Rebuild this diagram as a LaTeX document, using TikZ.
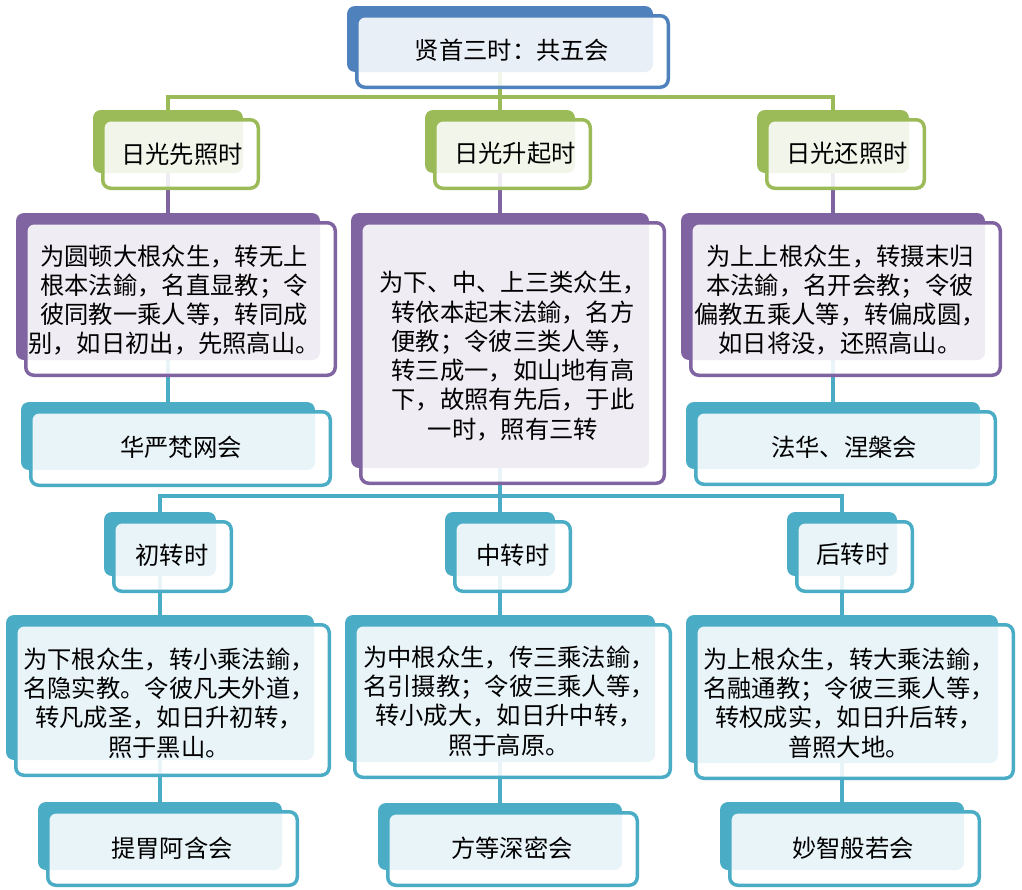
\documentclass[tikz,border=0pt]{standalone}
\usepackage{fontspec}
\newfontfamily\cjk{Noto Sans CJK SC}
\usetikzlibrary{calc}
\definecolor{cblue}{HTML}{4F81BD}
\definecolor{cgreen}{HTML}{9BBB59}
\definecolor{cpurple}{HTML}{8064A2}
\definecolor{cteal}{HTML}{4BACC6}
\pgfdeclarelayer{bg}
\pgfsetlayers{bg,main}
\tikzset{
  backbox/.style={rectangle, rounded corners=8pt, fill=#1, draw=none, inner sep=0pt, outer sep=0pt},
  frontbox/.style={rectangle, rounded corners=8pt, draw=#1, line width=3.5pt, fill=white, fill opacity=0.88, inner sep=0pt},
  txt/.style={font=\cjk\fontsize{24.3}{29.3}\selectfont, align=center, inner sep=0pt, text=black},
  link/.style={line width=4pt, draw=#1},
}
% name, colour, x1, y1, x2, y2 of the back box
\newcommand\boxpair[6]{%
  \node[backbox=#2, minimum width={(#5-#3)*1pt}, minimum height={(#6-#4)*1pt}] (#1) at ({(#3+#5)/2},{(#4+#6)/2}) {};
  \node[frontbox=#2, minimum width={(#5-#3+5.5)*1pt}, minimum height={(#6-#4+5.5)*1pt}] (#1f) at ({(#3+#5)/2+12.5},{(#4+#6)/2+12.5}) {};
}
\begin{document}
\begin{tikzpicture}[x=1pt,y=-1pt]
\useasboundingbox (0,0) rectangle (1022,889);
% boxes
\boxpair{T}{cblue}{347}{6}{653}{72}
\boxpair{GA}{cgreen}{93}{110}{243}{173}
\boxpair{GB}{cgreen}{425}{110}{575}{173}
\boxpair{GC}{cgreen}{757}{110}{909}{173}
\boxpair{PA}{cpurple}{16}{213}{320}{360}
\boxpair{PB}{cpurple}{351}{213}{649}{468}
\boxpair{PC}{cpurple}{681}{213}{985}{360}
\boxpair{CA}{cteal}{21}{402}{315}{470}
\boxpair{CC}{cteal}{686}{402}{980}{469}
\boxpair{SA}{cteal}{104}{512}{216}{576}
\boxpair{SB}{cteal}{445}{512}{555}{576}
\boxpair{SC}{cteal}{787}{512}{897}{576}
\boxpair{LA}{cteal}{6}{615}{314}{760}
\boxpair{LB}{cteal}{345}{615}{655}{762}
\boxpair{LC}{cteal}{686}{615}{998}{763}
\boxpair{MA}{cteal}{38}{802}{282}{870}
\boxpair{MB}{cteal}{378}{803}{622}{870}
\boxpair{MC}{cteal}{720}{802}{964}{870}
% texts
\node[txt] (Tt) at (512,50) {贤首三时：共五会};
\node[txt] (GAt) at (182,154) {日光先照时};
\node[txt] (GBt) at (515,153) {日光升起时};
\node[txt] (GCt) at (847,153) {日光还照时};
\node[txt] (PAt) at (174,300) {为圆顿大根众生，转无上\\根本法鍮，名直显教；令\\彼同教一乘人等，转同成\\别，如日初出，先照高山。};
\node[txt] (PBt) at (513,356) {为下、中、上三类众生，\\转依本起末法鍮，名方\\便教；令彼三类人等，\\转三成一，如山地有高\\下，故照有先后，于此\\一时，照有三转};
\node[txt] (PCt) at (840,300) {为上上根众生，转摄末归\\本法鍮，名开会教；令彼\\偏教五乘人等，转偏成圆，\\如日将没，还照高山。};
\node[txt] (CAt) at (181,447) {华严梵网会};
\node[txt] (CCt) at (844,447) {法华、涅槃会};
\node[txt] (SAt) at (172,555) {初转时};
\node[txt] (SBt) at (513,555) {中转时};
\node[txt] (SCt) at (853,554) {后转时};
\node[txt] (LAt) at (169,703) {为下根众生，转小乘法鍮，\\名隐实教。令彼凡夫外道，\\转凡成圣，如日升初转，\\照于黑山。};
\node[txt] (LBt) at (509,701) {为中根众生，传三乘法鍮，\\名引摄教；令彼三乘人等，\\转小成大，如日升中转，\\照于高原。};
\node[txt] (LCt) at (849,703) {为上根众生，转大乘法鍮，\\名融通教；令彼三乘人等，\\转权成实，如日升后转，\\普照大地。};
\node[txt] (MAt) at (172,848) {提胃阿含会};
\node[txt] (MBt) at (512,848) {方等深密会};
\node[txt] (MCt) at (853,848) {妙智般若会};
% connectors
\coordinate (j1) at ($(T.south)+(0,25)$);
\coordinate (j2) at ($(PB.south)+(0,28)$);
\begin{pgfonlayer}{bg}
\draw[link=cgreen] (T.south) -- (j1);
\draw[link=cgreen] (GA.north) |- (j1) -| (GC.north);
\draw[link=cgreen] (j1) -- (GB.north);
\draw[link=cpurple] (GA.south) -- (PA.north);
\draw[link=cpurple] (GB.south) -- (PB.north);
\draw[link=cpurple] (GC.south) -- (PC.north);
\draw[link=cteal] (PA.south) -- (CA.north);
\draw[link=cteal] (PC.south) -- (CC.north);
\draw[link=cteal] (PB.south) -- (j2);
\draw[link=cteal] (SA.north) |- (j2) -| (SC.north);
\draw[link=cteal] (j2) -- (SB.north);
\draw[link=cteal] (SA.south) -- (LA.north);
\draw[link=cteal] (SB.south) -- (LB.north);
\draw[link=cteal] (SC.south) -- (LC.north);
\draw[link=cteal] (LA.south) -- (MA.north);
\draw[link=cteal] (LB.south) -- (MB.north);
\draw[link=cteal] (LC.south) -- (MC.north);
\end{pgfonlayer}
\end{tikzpicture}
\end{document}
